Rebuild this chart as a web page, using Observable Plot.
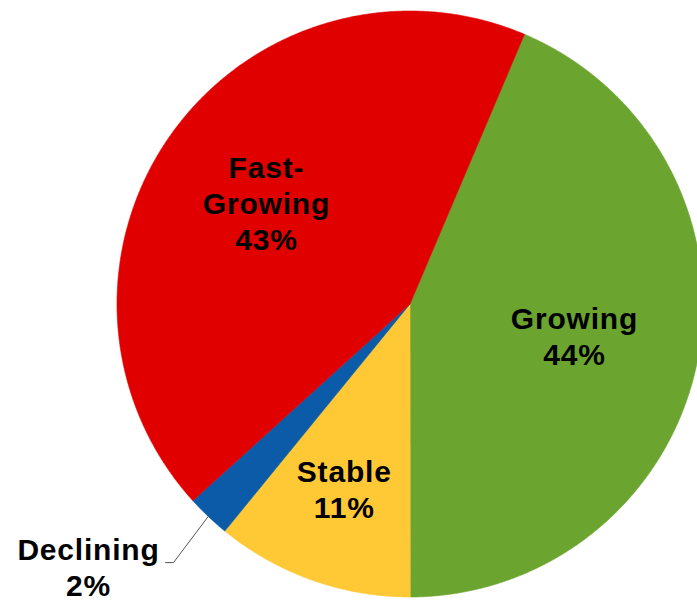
<!DOCTYPE html>
<html>
<head>
<meta charset="utf-8">
<script src="https://cdn.jsdelivr.net/npm/d3@7"></script>
<script src="https://cdn.jsdelivr.net/npm/@observablehq/plot@0.6"></script>
<style>
  html, body { margin: 0; padding: 0; background: #fff; overflow: hidden; }
  #chart svg { display: block; }
</style>
</head>
<body>
<div id="chart"></div>
<script>
// ---- data ----
const categories = ["Growing", "Stable", "Declining", "Fast-Growing"];
const labelNames = ["Growing", "Stable", "Declining", "Fast-\nGrowing"];
const shares = [43.6, 10.9, 2.4, 43.1];
const colors = ["#6BA530", "#FFC935", "#0B5BA8", "#E10000"];

// ---- layout ----
const W = 697, H = 602;
const cx = 409.5, cy = 303.5, R = 293;
const startAngle = 23; // degrees clockwise from 12 o'clock
const labelPlace = {
  "Growing": {r: 0.574, da: 0.7, lift: 0},
  "Stable": {r: 0.68, da: -0.3, lift: 0},
  "Declining": {r: 1.432, da: 6.5, lift: 3},
  "Fast-Growing": {r: 0.592, da: -1.3, lift: 0}
};
const rad = d => d * Math.PI / 180;
const polar = (deg, r) => ({x: r * Math.sin(rad(deg)), y: r * Math.cos(rad(deg))});

const total = d3.sum(shares);
let acc = startAngle;
const slices = categories.map((name, i) => {
  const a0 = acc, a1 = acc + shares[i] / total * 360;
  acc = a1;
  const pts = [{x: 0, y: 0}];
  const n = Math.max(2, Math.ceil((a1 - a0) / 0.25));
  for (let k = 0; k <= n; k++) pts.push(polar(a0 + (a1 - a0) * k / n, 1));
  pts.push({x: 0, y: 0});
  const mid = (a0 + a1) / 2;
  const lp = labelPlace[name];
  const pos = polar(mid + lp.da, lp.r);
  return {name, color: colors[i], pts, mid, pos, label: {
    x: pos.x, y: pos.y + lp.lift / R,
    text: `${labelNames[i]}\n${Math.round(shares[i])}%`, outside: lp.r > 1
  }};
});

const labels = slices.map(s => s.label);
// leader line for outside label
const leaders = slices.filter(s => s.label.outside).map(s => {
  const a = polar(s.mid, 1);
  const ex = s.pos.x + 85 / R, ey = s.pos.y + 11 / R;
  return [a, {x: ex, y: ey}, {x: ex - 8 / R, y: ey}];
});

const font = "'Liberation Sans', Arial, Helvetica, sans-serif";
const chart = Plot.plot({
  width: W,
  height: H,
  margin: 0,
  style: {fontFamily: font, background: "#fff", letterSpacing: "0.8px"},
  x: {domain: [-cx / R, (W - cx) / R], axis: null},
  y: {domain: [-(H - cy) / R, cy / R], axis: null},
  marks: [
    ...slices.map(s => Plot.line(s.pts, {x: "x", y: "y", fill: s.color, stroke: s.color, strokeWidth: 0.6, curve: "linear"})),
    ...leaders.map(l => Plot.line(l, {x: "x", y: "y", stroke: "#555", strokeWidth: 1})),
    Plot.text(labels, {x: "x", y: "y", dy: -4, text: "text", fontSize: 30, fontWeight: "bold", lineHeight: 1.2, fill: "#000", fontFamily: font})
  ]
});
document.getElementById("chart").append(chart);
</script>
</body>
</html>
